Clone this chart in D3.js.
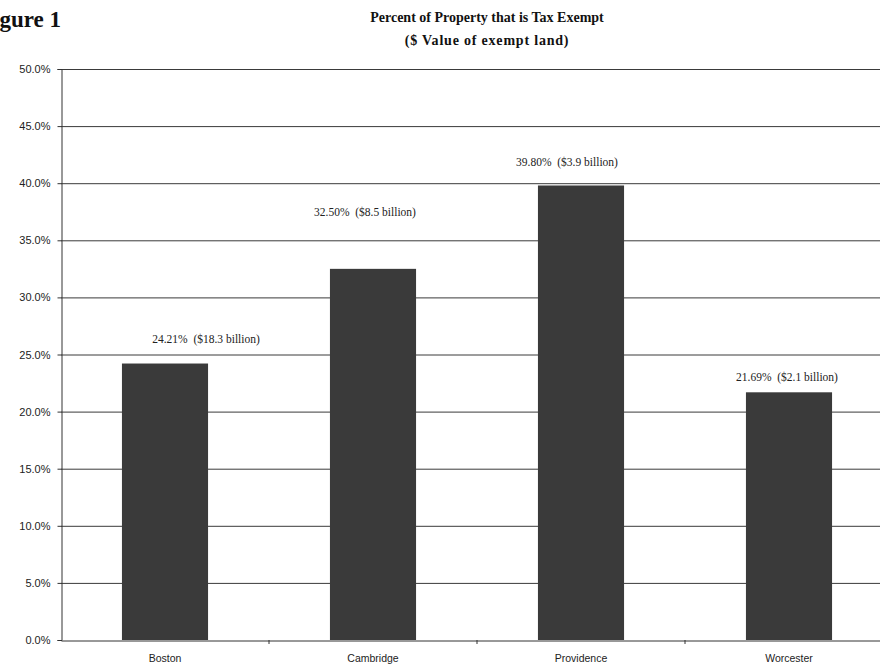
<!DOCTYPE html>
<html>
<head>
<meta charset="utf-8">
<script src="https://cdn.jsdelivr.net/npm/d3@7"></script>
<style>
  body { margin: 0; background: #fff; }
  svg { display: block; }
</style>
</head>
<body>
<div id="chart"></div>
<script>
const cities = ["Boston", "Cambridge", "Providence", "Worcester"];
const exemptPct = [24.21, 32.50, 39.80, 21.69];
const exemptValue = ["$18.3 billion", "$8.5 billion", "$3.9 billion", "$2.1 billion"];
const yTicks = [0, 5, 10, 15, 20, 25, 30, 35, 40, 45, 50];

// hand-placed label offsets (dx from bar centre, dy above bar top)
const labelDx = [41, -8, -14, -2];
const labelDy = [21, 53, 19, 11];

const width = 880, height = 669;
const margin = { top: 69, left: 61, bottom: 29 };

const svg = d3.select('#chart')
    .append('svg')
    .attr('width', width)
    .attr('height', height);

const y = d3.scaleLinear()
    .domain([0, 50])
    .range([height - margin.bottom, margin.top]);

// plot runs a bit past the right edge of the page (cropped scan)
const x = d3.scaleBand()
    .domain(cities)
    .range([margin.left, 893])
    .paddingInner(0.586)
    .paddingOuter(0.293);

// Title (the scan cuts off the start of "Figure 1")
svg.append('text')
    .attr('x', -21)
    .attr('y', 27)
    .style('font', 'bold 23px "Liberation Serif", "DejaVu Serif", serif')
    .attr('fill', '#111')
    .text('Figure 1');

svg.append('text')
    .attr('x', 487)
    .attr('y', 22)
    .attr('text-anchor', 'middle')
    .style('font', 'bold 14px "Liberation Serif", "DejaVu Serif", serif')
    .attr('fill', '#111')
    .text('Percent of Property that is Tax Exempt');

svg.append('text')
    .attr('x', 487)
    .attr('y', 45)
    .attr('text-anchor', 'middle')
    .style('font', 'bold 14px "Liberation Serif", "DejaVu Serif", serif')
    .style('letter-spacing', '0.8px')
    .attr('fill', '#111')
    .text('($ Value of exempt land)');

// Gridlines
svg.append('g')
    .selectAll('line')
    .data(yTicks.filter(d => d > 0))
    .join('line')
    .attr('x1', margin.left)
    .attr('x2', width)
    .attr('y1', d => y(d) + 0.5)
    .attr('y2', d => y(d) + 0.5)
    .attr('stroke', '#3a3a3a')
    .attr('stroke-width', 1);

// Y axis
const yAxis = d3.axisLeft(y)
    .tickValues(yTicks)
    .tickSize(4)
    .tickPadding(7)
    .tickFormat(d => d.toFixed(1) + '%');

svg.append('g')
    .attr('transform', `translate(${margin.left + 0.5},0)`)
    .call(yAxis)
    .call(g => g.selectAll('line, path').attr('stroke', '#333'))
    .call(g => g.selectAll('text')
        .attr('fill', '#222')
        .style('font', '11px "Liberation Sans", Arial, sans-serif'));

// Bars
svg.append('g')
    .selectAll('rect')
    .data(cities)
    .join('rect')
    .attr('x', d => x(d))
    .attr('y', (d, i) => y(exemptPct[i]))
    .attr('width', x.bandwidth())
    .attr('height', (d, i) => y(0) - y(exemptPct[i]))
    .attr('fill', '#3a3a3a');

// X axis
const xAxis = d3.axisBottom(x)
    .tickSize(0)
    .tickPadding(14);

svg.append('g')
    .attr('transform', `translate(0,${y(0) + 0.5})`)
    .call(xAxis)
    .call(g => g.select('.domain').attr('stroke', '#333'))
    .call(g => g.selectAll('text')
        .attr('fill', '#222')
        .style('font', '10.5px "Liberation Sans", Arial, sans-serif'));

// category separator ticks
svg.append('g')
    .selectAll('line')
    .data(cities.slice(1))
    .join('line')
    .attr('x1', d => x(d) - x.step() * x.paddingInner() / 2)
    .attr('x2', d => x(d) - x.step() * x.paddingInner() / 2)
    .attr('y1', y(0))
    .attr('y2', y(0) + 4)
    .attr('stroke', '#333');

// Value labels
svg.append('g')
    .selectAll('text')
    .data(cities)
    .join('text')
    .attr('x', (d, i) => x(d) + x.bandwidth() / 2 + labelDx[i])
    .attr('y', (d, i) => y(exemptPct[i]) - labelDy[i])
    .attr('text-anchor', 'middle')
    .attr('fill', '#222')
    .style('font', '11.5px "Liberation Serif", "DejaVu Serif", serif')
    .text((d, i) => `${exemptPct[i].toFixed(2)}%\u00a0\u00a0(${exemptValue[i]})`);
</script>
</body>
</html>
